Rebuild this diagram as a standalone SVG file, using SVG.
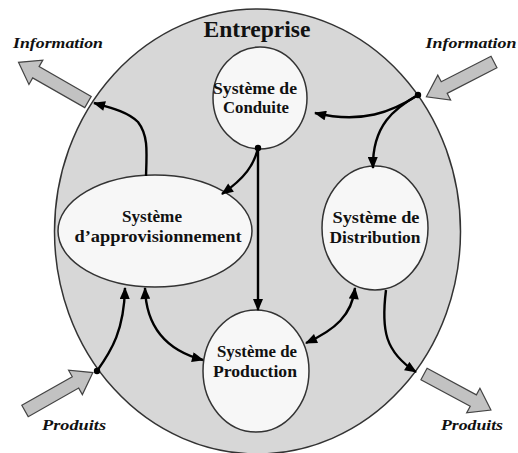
<svg xmlns="http://www.w3.org/2000/svg" width="518" height="453" viewBox="0 0 518 453">
<style>
.t{font-family:"Liberation Serif","Times New Roman",serif;font-weight:bold;fill:#111;text-anchor:middle}
.n{font-size:16.5px}
.lab{font-size:15px;font-style:italic}
.node{fill:#f7f7f7;stroke:#333;stroke-width:1.5}
.big{fill:#d7d7d7;stroke:#333;stroke-width:1.5}
.blk{fill:#c2c2c2;stroke:#444;stroke-width:1.2}
.c{fill:none;stroke:#000;stroke-width:2.4}
</style>
<defs>
<marker id="ah" viewBox="0 0 12 10" refX="11" refY="5" markerWidth="13" markerHeight="10" markerUnits="userSpaceOnUse" orient="auto-start-reverse">
<path d="M0,0 L12,5 L0,10 Z" fill="#000"/>
</marker>
</defs>
<rect width="518" height="453" fill="#fff"/>
<g id="entreprise">
<ellipse class="big" cx="257.5" cy="231.5" rx="203" ry="222.5"/>
<text class="t" x="257" y="37" font-size="23" textLength="107" lengthAdjust="spacingAndGlyphs">Entreprise</text>
</g>
<g id="info-out">
<polygon class="blk" transform="translate(88,102) rotate(-150.3)" points="0,-6.5 60,-6.5 60,-14 80,0 60,14 60,6.5 0,6.5"/>
<text class="t lab" x="58" y="48" textLength="90" lengthAdjust="spacingAndGlyphs">Information</text>
</g>
<g id="info-in">
<polygon class="blk" transform="translate(494,62) rotate(152.8)" points="0,-6.5 56,-6.5 56,-14 76,0 56,14 56,6.5 0,6.5"/>
<text class="t lab" x="471" y="48" textLength="91" lengthAdjust="spacingAndGlyphs">Information</text>
</g>
<g id="produits-in">
<polygon class="blk" transform="translate(25,411) rotate(-29.5)" points="0,-6.5 58,-6.5 58,-14 78,0 58,14 58,6.5 0,6.5"/>
<text class="t lab" x="74" y="430" textLength="64" lengthAdjust="spacingAndGlyphs">Produits</text>
</g>
<g id="produits-out">
<polygon class="blk" transform="translate(424,374) rotate(28.3)" points="0,-6.5 56,-6.5 56,-14 76,0 56,14 56,6.5 0,6.5"/>
<text class="t lab" x="472" y="430" textLength="62" lengthAdjust="spacingAndGlyphs">Produits</text>
</g>
<g id="conduite">
<ellipse class="node" cx="260" cy="98" rx="47" ry="51"/>
<text class="t n" x="255" y="94" textLength="84" lengthAdjust="spacingAndGlyphs">Système de</text>
<text class="t n" x="256" y="113" textLength="66" lengthAdjust="spacingAndGlyphs">Conduite</text>
</g>
<g id="approvisionnement">
<ellipse class="node" cx="155" cy="231" rx="97" ry="56"/>
<text class="t n" x="152" y="222" textLength="60" lengthAdjust="spacingAndGlyphs">Système</text>
<text class="t n" x="158" y="242" textLength="167" lengthAdjust="spacingAndGlyphs">d’approvisionnement</text>
</g>
<g id="distribution">
<ellipse class="node" cx="375" cy="228" rx="53" ry="62"/>
<text class="t n" x="376" y="223" textLength="87" lengthAdjust="spacingAndGlyphs">Système de</text>
<text class="t n" x="375" y="243" textLength="91" lengthAdjust="spacingAndGlyphs">Distribution</text>
</g>
<g id="production">
<ellipse class="node" cx="256" cy="371" rx="53" ry="61"/>
<text class="t n" x="257" y="357" textLength="80" lengthAdjust="spacingAndGlyphs">Système de</text>
<text class="t n" x="255" y="377" textLength="84" lengthAdjust="spacingAndGlyphs">Production</text>
</g>
<g id="connectors">
<path class="c" d="M146,176 C147,150 148,135 138,122 C128,112 112,108 94,103" marker-end="url(#ah)"/>
<path class="c" d="M258,148 C254,165 245,178 222,194" marker-end="url(#ah)"/>
<path class="c" d="M258,148 L258,310" stroke-width="2" marker-end="url(#ah)"/>
<path class="c" d="M418,95 C392,112 362,124 315,113" marker-end="url(#ah)"/>
<path class="c" d="M418,95 C395,108 372,125 373,168" marker-end="url(#ah)"/>
<path class="c" d="M97,371 C112,350 124,330 125,288" marker-end="url(#ah)"/>
<path class="c" d="M145,288 C146,325 165,350 203,360" marker-start="url(#ah)" marker-end="url(#ah)"/>
<path class="c" d="M355,288 C352,315 335,330 306,343" marker-start="url(#ah)" marker-end="url(#ah)"/>
<path class="c" d="M386,290 C381,330 385,352 416,372" marker-end="url(#ah)"/>
<circle cx="258" cy="148" r="3.2" fill="#000"/>
<circle cx="418" cy="95" r="3.2" fill="#000"/>
<circle cx="97" cy="371" r="3.2" fill="#000"/>
</g>
</svg>
